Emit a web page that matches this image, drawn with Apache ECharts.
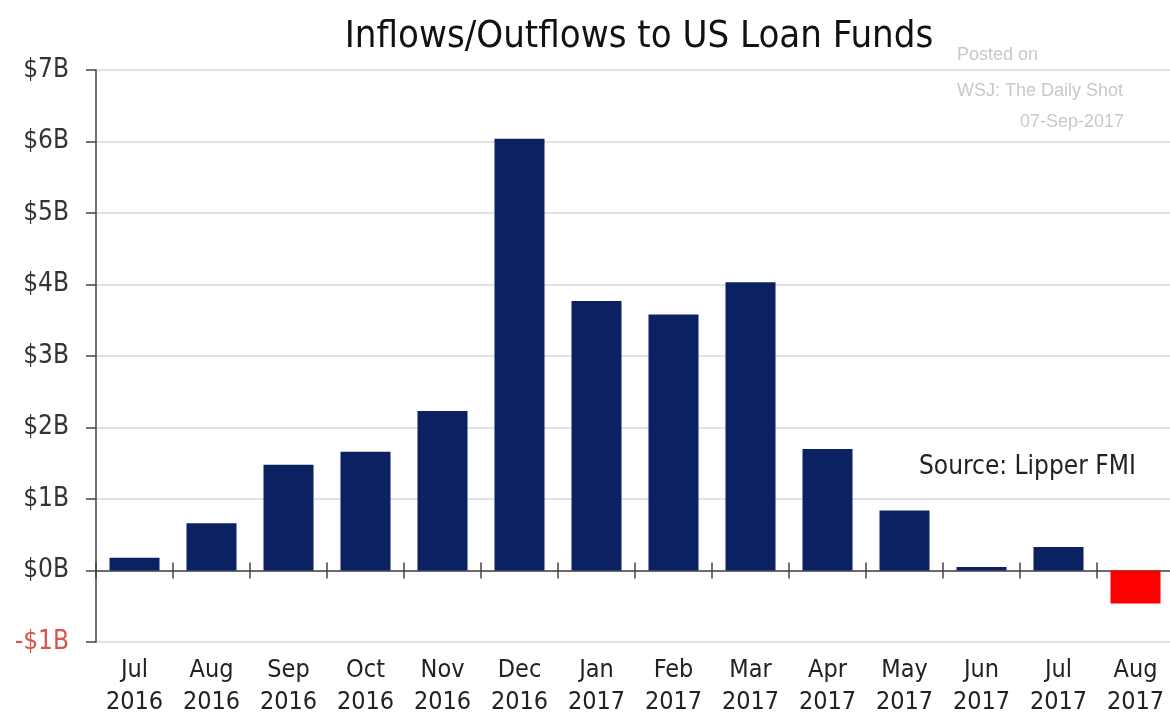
<!DOCTYPE html>
<html>
<head>
<meta charset="utf-8">
<script src="https://cdn.jsdelivr.net/npm/echarts@6/dist/echarts.min.js"></script>
<style>
html,body{margin:0;padding:0;background:#fff;}
#chart{width:1170px;height:720px;}
</style>
</head>
<body>
<div id="chart"></div>
<script>
var categories = ['Jul\n2016','Aug\n2016','Sep\n2016','Oct\n2016','Nov\n2016','Dec\n2016','Jan\n2017','Feb\n2017','Mar\n2017','Apr\n2017','May\n2017','Jun\n2017','Jul\n2017','Aug\n2017'];
var flows = [0.18, 0.66, 1.48, 1.66, 2.23, 6.04, 3.77, 3.58, 4.03, 1.70, 0.84, 0.05, 0.33, -0.46];
var yTicks = [-1, 0, 1, 2, 3, 4, 5, 6, 7];
var titleText = 'Inflows/Outflows to US Loan Funds';
var postedLines = ['Posted on', 'WSJ: The Daily Shot', '07-Sep-2017'];
var sourceText = 'Source: Lipper FMI';

var FONT = '"Liberation Sans Narrow", "Arial Narrow", "DejaVu Sans Condensed", "Liberation Sans", sans-serif';
var chart = echarts.init(document.getElementById('chart'), null, {renderer: 'canvas'});
var yMin = yTicks[0], yMax = yTicks[yTicks.length - 1];
var option = {
  backgroundColor: '#ffffff',
  animation: false,
  title: {
    text: titleText,
    left: 634, top: 13, textAlign: 'center',
    textStyle: {fontFamily: FONT, fontSize: 38, fontWeight: 'normal', color: '#111'}
  },
  grid: {left: 96, right: -4, top: 70, bottom: 78, containLabel: false, outerBoundsMode: 'none'},
  xAxis: [{
    type: 'category',
    position: 'bottom',
    data: categories,
    axisLine: {show: false, onZero: false},
    axisTick: {show: false},
    axisLabel: {margin: 12, fontFamily: FONT, fontSize: 25, color: '#222', lineHeight: 32, interval: 0},
    splitLine: {show: false}
  }, {
    type: 'category',
    data: categories,
    axisLine: {show: true, onZero: true, onZeroAxisIndex: 0, lineStyle: {color: '#444', width: 1.5}},
    axisTick: {show: true, inside: false, length: 8, lineStyle: {color: '#444', width: 1.5}},
    axisLabel: {show: false},
    splitLine: {show: false}
  }, {
    type: 'category',
    data: categories,
    axisLine: {show: true, onZero: true, onZeroAxisIndex: 1, lineStyle: {color: '#444', opacity: 0}},
    axisTick: {show: true, inside: true, length: 8, lineStyle: {color: '#444', width: 1.5}},
    axisLabel: {show: false},
    splitLine: {show: false}
  }],
  yAxis: [{
    type: 'value',
    min: yMin, max: yMax, interval: 1,
    axisLine: {show: true, onZero: false, lineStyle: {color: '#444', width: 1.5}},
    axisTick: {show: true, inside: false, length: 10, lineStyle: {color: '#444', width: 1.5}},
    splitLine: {show: true, lineStyle: {color: '#d8d8d8', width: 1.5}},
    axisLabel: {
      margin: 27,
      fontFamily: FONT, fontSize: 26, color: '#333',
      formatter: function (v) {
        return v < 0 ? '{neg|-$' + Math.abs(v) + 'B}' : '$' + v + 'B';
      },
      rich: {neg: {color: '#d9534f', fontFamily: FONT, fontSize: 26}}
    }
  }, {
    type: 'value',
    min: yMin, max: yMax, interval: 1,
    position: 'left',
    axisLine: {show: false, onZero: false},
    axisTick: {show: false},
    axisLabel: {show: false},
    splitLine: {show: false}
  }],
  series: [{
    type: 'bar',
    xAxisIndex: 0,
    yAxisIndex: 0,
    data: flows,
    barWidth: 50,
    itemStyle: {
      color: function (p) { return p.value < 0 ? '#ff0000' : '#0b2161'; }
    }
  }],
  graphic: [
    {type: 'text', left: 957, top: 46, style: {text: postedLines[0], font: '18px "Liberation Sans", sans-serif', fill: '#c8c8c8'}},
    {type: 'text', left: 957, top: 82, style: {text: postedLines[1], font: '18px "Liberation Sans", sans-serif', fill: '#c8c8c8'}},
    {type: 'text', left: 1020, top: 113, style: {text: postedLines[2], font: '18px "Liberation Sans", sans-serif', fill: '#c8c8c8'}},
    {type: 'text', left: 919, top: 454, style: {text: sourceText, font: '26px ' + FONT, fill: '#222'}}
  ]
};
chart.setOption(option);
</script>
</body>
</html>
